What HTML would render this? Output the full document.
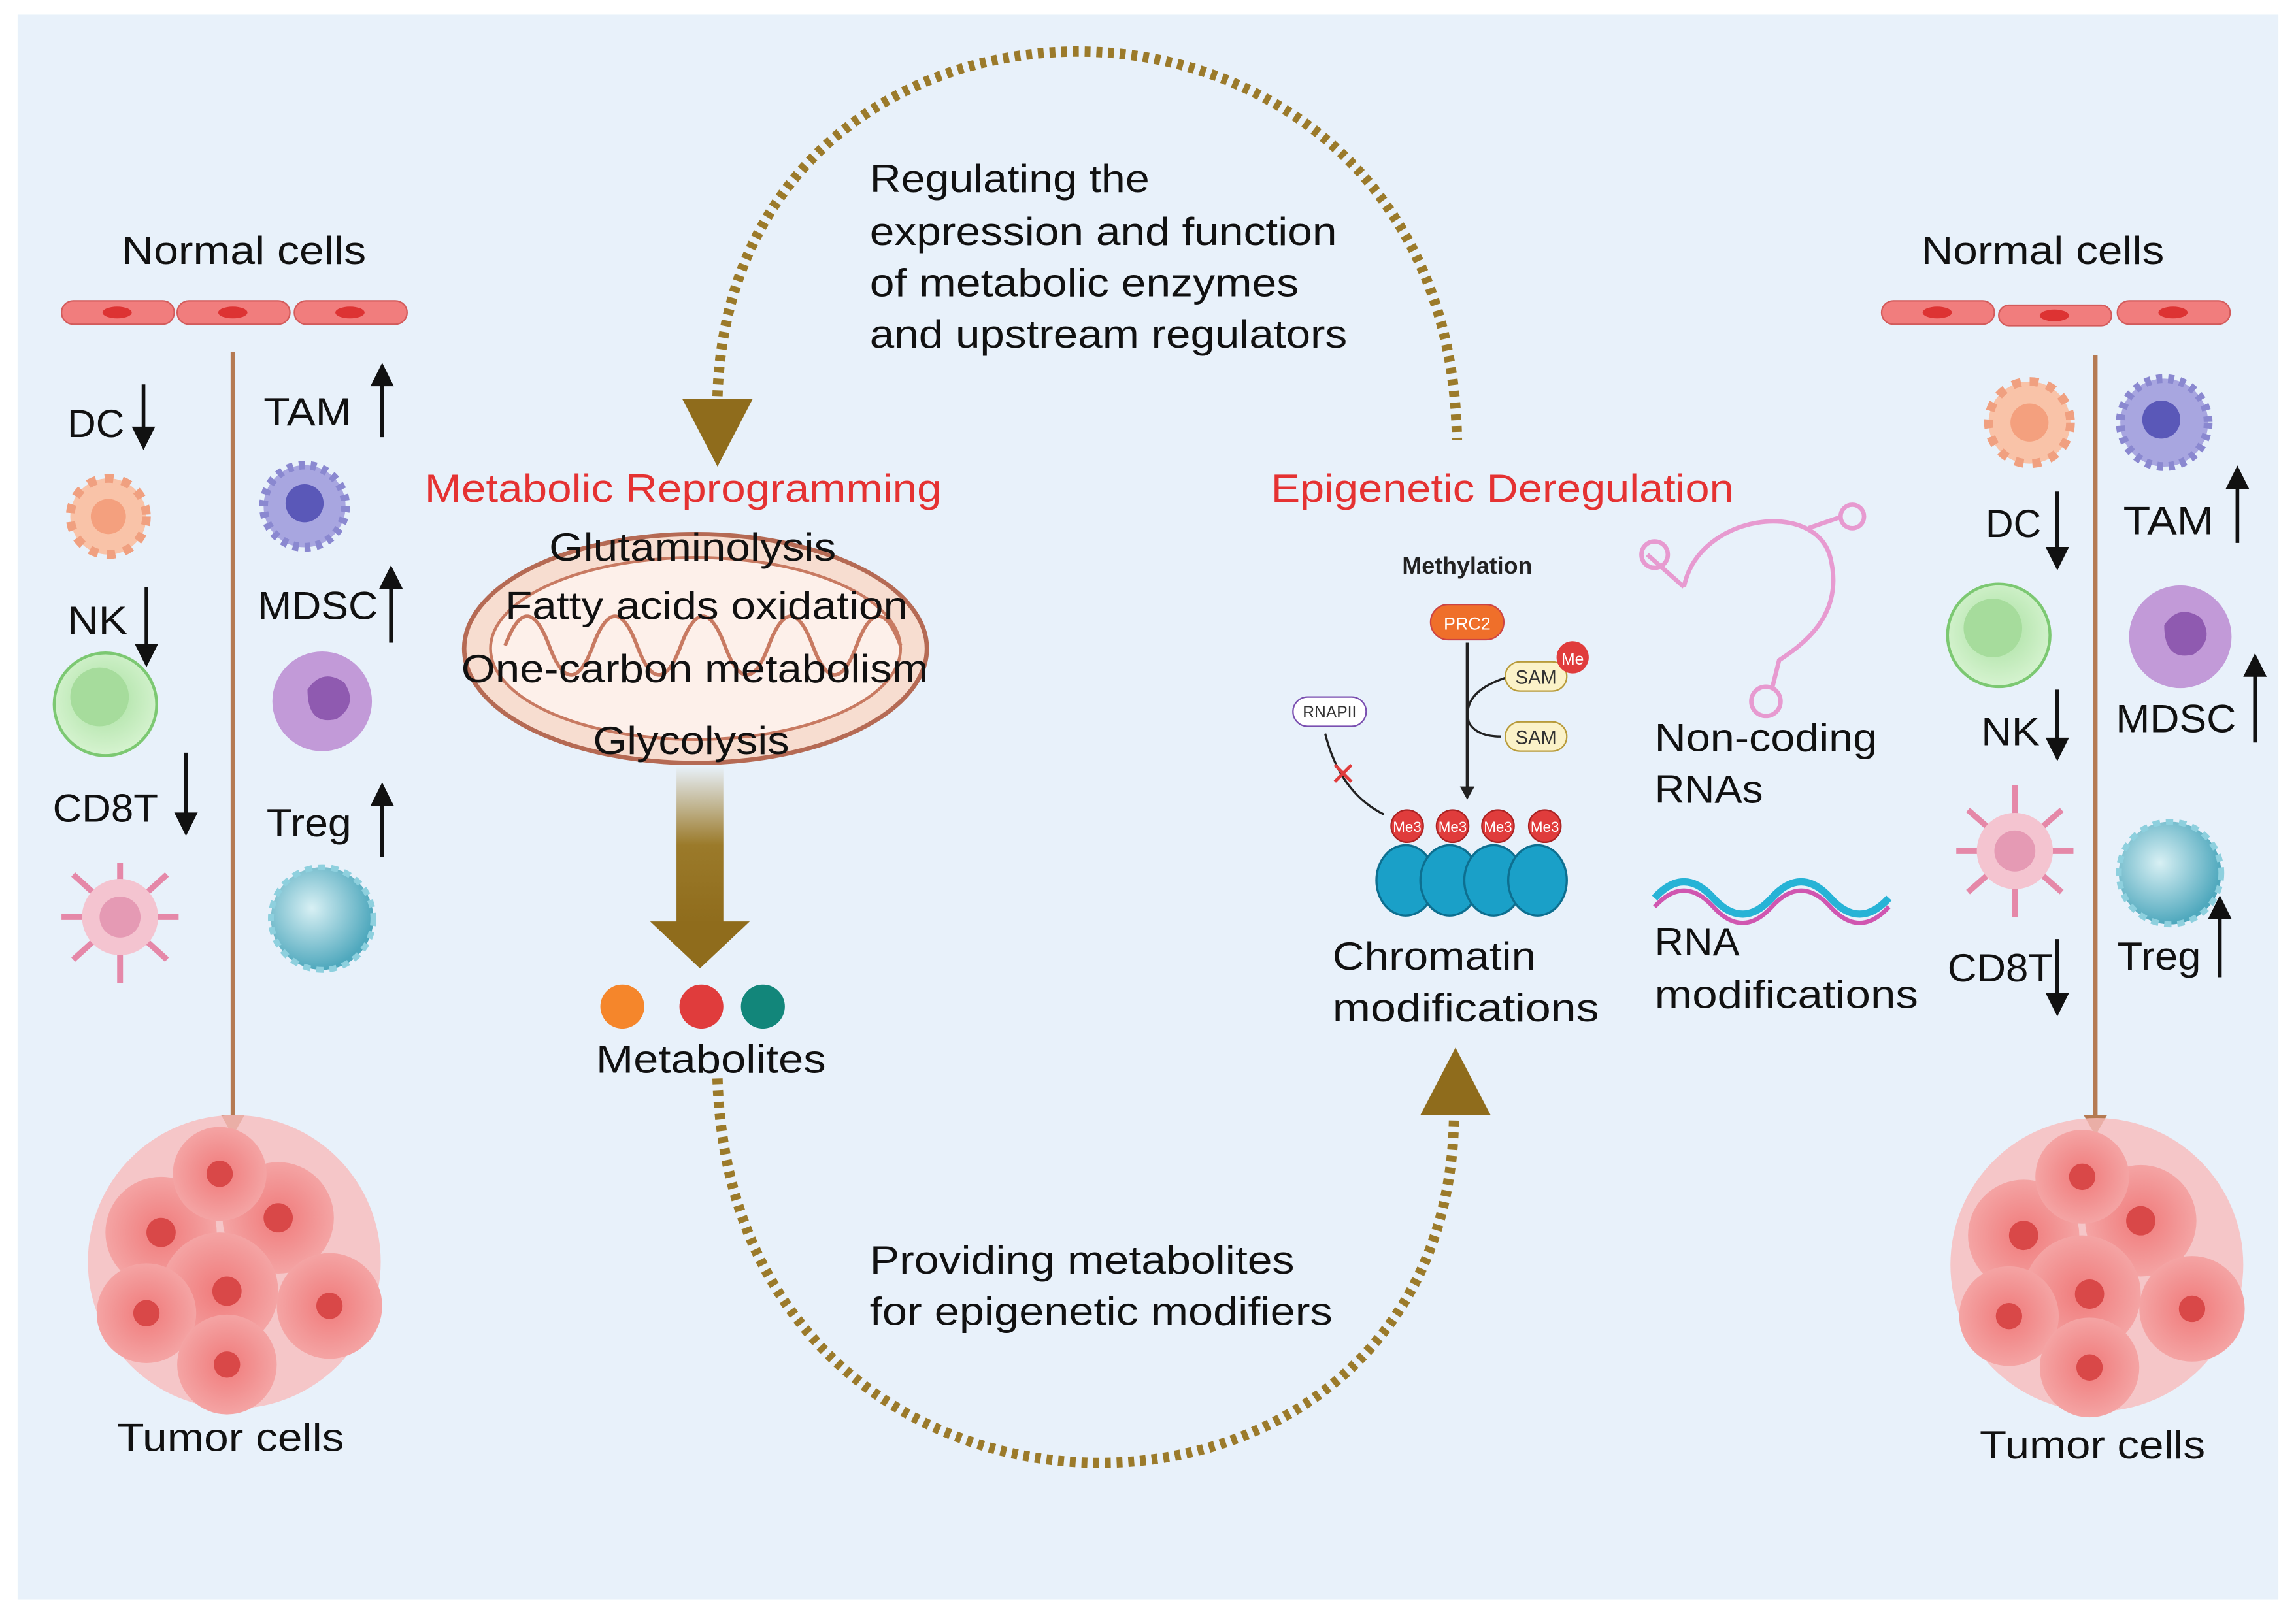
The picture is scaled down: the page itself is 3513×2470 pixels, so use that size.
<!DOCTYPE html>
<html><head><meta charset="utf-8"><style>
html,body{margin:0;padding:0;background:#fff}
svg{display:block}
text{font-family:"Liberation Sans",sans-serif}
</style></head><body>
<svg width="3513" height="2470" viewBox="0 0 1568 1100" preserveAspectRatio="none" xmlns="http://www.w3.org/2000/svg">
<defs>
<radialGradient id="cellg" cx="50%" cy="50%" r="50%"><stop offset="0" stop-color="#f07a7a"/><stop offset="1" stop-color="#f4a4a4"/></radialGradient>
<linearGradient id="fadeArrow" x1="0" y1="0" x2="0" y2="1"><stop offset="0" stop-color="#e8f1fa"/><stop offset="0.5" stop-color="#9b7a2a"/><stop offset="1" stop-color="#8f6c1c"/></linearGradient>
<radialGradient id="treg" cx="40%" cy="40%" r="60%"><stop offset="0" stop-color="#d8f0f4"/><stop offset="1" stop-color="#4fa8bd"/></radialGradient>
<radialGradient id="nkg" cx="50%" cy="45%" r="55%"><stop offset="0" stop-color="#a8e0a0"/><stop offset="1" stop-color="#d6f3d0"/></radialGradient>
</defs>
<rect x="0" y="0" width="1568" height="1100" fill="#fff"/>
<rect x="12" y="10" width="1544" height="1080" fill="#e8f1fa"/>

<path d="M490 270 C 500 -48, 990 -48, 995 300" fill="none" stroke="#9b7a2a" stroke-width="7" stroke-dasharray="4 4"/>
<polygon points="466,272 514,272 490,318" fill="#8f6c1c"/>
<path d="M490 735 C 500 1080, 990 1080, 993 760" fill="none" stroke="#9b7a2a" stroke-width="7" stroke-dasharray="4 4"/>
<polygon points="970,760 1018,760 994,714" fill="#8f6c1c"/>

<g font-size="27" fill="#111" lengthAdjust="spacingAndGlyphs">
<text x="594" y="131" textLength="191" lengthAdjust="spacingAndGlyphs">Regulating the</text>
<text x="594" y="167" textLength="319" lengthAdjust="spacingAndGlyphs">expression and function</text>
<text x="594" y="202" textLength="293" lengthAdjust="spacingAndGlyphs">of metabolic enzymes</text>
<text x="594" y="237" textLength="326" lengthAdjust="spacingAndGlyphs">and upstream regulators</text>
<text x="594" y="868" textLength="290" lengthAdjust="spacingAndGlyphs">Providing metabolites</text>
<text x="594" y="903" textLength="316" lengthAdjust="spacingAndGlyphs">for epigenetic modifiers</text>
</g>

<text x="290" y="342" font-size="27" fill="#e53232" textLength="353" lengthAdjust="spacingAndGlyphs">Metabolic Reprogramming</text>
<text x="868" y="342" font-size="27" fill="#e53232" textLength="316" lengthAdjust="spacingAndGlyphs">Epigenetic Deregulation</text>

<ellipse cx="475" cy="442" rx="158" ry="78" fill="#f7ddd0" stroke="#b56a54" stroke-width="3"/>
<ellipse cx="475" cy="442" rx="140" ry="62" fill="#fdf0ea" stroke="#c87a62" stroke-width="2"/>
<path d="M345 440 q15 -40 30 0 q15 40 30 0 q15 -40 30 0 q15 40 30 0 q15 -40 30 0 q15 40 30 0 q15 -40 30 0 q15 40 30 0 q15 -40 30 0" fill="none" stroke="#c87a62" stroke-width="2.5"/>
<g font-size="27" fill="#111">
<text x="375" y="382" textLength="196" lengthAdjust="spacingAndGlyphs">Glutaminolysis</text>
<text x="345" y="422" textLength="275" lengthAdjust="spacingAndGlyphs">Fatty acids oxidation</text>
<text x="315" y="465" textLength="319" lengthAdjust="spacingAndGlyphs">One-carbon metabolism</text>
<text x="405" y="514" textLength="134" lengthAdjust="spacingAndGlyphs">Glycolysis</text>
</g>
<rect x="462" y="522" width="32" height="108" fill="url(#fadeArrow)"/>
<polygon points="444,628 512,628 478,660" fill="#8f6c1c"/>
<circle cx="425" cy="686" r="15" fill="#f5862b"/>
<circle cx="479" cy="686" r="15" fill="#e03c3c"/>
<circle cx="521" cy="686" r="15" fill="#12867a"/>
<text x="407" y="731" font-size="27" fill="#111" textLength="157" lengthAdjust="spacingAndGlyphs">Metabolites</text>

<text x="1002" y="391" font-size="16" font-weight="bold" fill="#222" text-anchor="middle">Methylation</text>
<rect x="977" y="412" width="50" height="24" rx="12" fill="#ef6f2a" stroke="#c44" />
<text x="1002" y="429" font-size="12" fill="#fff" text-anchor="middle">PRC2</text>
<line x1="1002" y1="438" x2="1002" y2="538" stroke="#222" stroke-width="2"/>
<polygon points="997,536 1007,536 1002,545" fill="#222"/>
<path d="M1028 462 q-30 10 -25 30 q5 10 22 10" fill="none" stroke="#222" stroke-width="1.5"/>
<rect x="1028" y="451" width="42" height="20" rx="10" fill="#fbf2c8" stroke="#b89b3a"/>
<text x="1049" y="466" font-size="13" text-anchor="middle" fill="#333">SAM</text>
<circle cx="1074" cy="448" r="11" fill="#e03c3c"/>
<text x="1074" y="453" font-size="11" fill="#fff" text-anchor="middle">Me</text>
<rect x="1028" y="492" width="42" height="20" rx="10" fill="#fbf2c8" stroke="#b89b3a"/>
<text x="1049" y="507" font-size="13" text-anchor="middle" fill="#333">SAM</text>
<rect x="883" y="475" width="50" height="20" rx="10" fill="#fff" stroke="#7a4fb0"/>
<text x="908" y="489" font-size="11" text-anchor="middle" fill="#333">RNAPII</text>
<path d="M905 500 q10 40 40 55" fill="none" stroke="#222" stroke-width="1.5"/>
<text x="908" y="535" font-size="22" fill="#e03c3c">✕</text>
<g fill="#1aa0c8" stroke="#0d6f90" stroke-width="1.5">
<ellipse cx="960" cy="600" rx="20" ry="24"/><ellipse cx="990" cy="600" rx="20" ry="24"/><ellipse cx="1020" cy="600" rx="20" ry="24"/><ellipse cx="1050" cy="600" rx="20" ry="24"/>
</g>
<g fill="#e03c3c" stroke="#a22">
<circle cx="961" cy="563" r="11"/><circle cx="992" cy="563" r="11"/><circle cx="1023" cy="563" r="11"/><circle cx="1055" cy="563" r="11"/>
</g>
<g font-size="10" fill="#fff" text-anchor="middle"><text x="961" y="567">Me3</text><text x="992" y="567">Me3</text><text x="1023" y="567">Me3</text><text x="1055" y="567">Me3</text></g>
<g font-size="27" fill="#111">
<text x="910" y="661" textLength="139" lengthAdjust="spacingAndGlyphs">Chromatin</text>
<text x="910" y="696" textLength="182" lengthAdjust="spacingAndGlyphs">modifications</text>
<text x="1130" y="512" textLength="152" lengthAdjust="spacingAndGlyphs">Non-coding</text>
<text x="1130" y="547" textLength="74" lengthAdjust="spacingAndGlyphs">RNAs</text>
<text x="1130" y="651" textLength="58" lengthAdjust="spacingAndGlyphs">RNA</text>
<text x="1130" y="687" textLength="180" lengthAdjust="spacingAndGlyphs">modifications</text>
</g>
<g fill="none" stroke="#e79ad0" stroke-width="3">
<path d="M1150 400 C1160 350, 1240 340, 1250 380 C1260 420, 1230 440, 1215 450 L1210 470"/>
<circle cx="1206" cy="478" r="10"/>
<path d="M1150 400 L1125 378"/><circle cx="1130" cy="378" r="9"/>
<path d="M1235 360 L1258 352"/><circle cx="1265" cy="352" r="8"/>
</g>
<path d="M1130 612 q20 -22 40 0 t40 0 t40 0 t40 0" fill="none" stroke="#27b3d6" stroke-width="5"/>
<path d="M1130 618 q20 -22 40 0 t40 0 t40 0 t40 0" fill="none" stroke="#d056b0" stroke-width="3"/>

<text x="83" y="180" font-size="27" fill="#111" textLength="167" lengthAdjust="spacingAndGlyphs">Normal cells</text>
<g fill="#f17d7d" stroke="#d35b5b"><rect x="42" y="205" width="77" height="16" rx="8"/><rect x="121" y="205" width="77" height="16" rx="8"/><rect x="201" y="205" width="77" height="16" rx="8"/></g>
<g fill="#d33"><ellipse cx="80" cy="213" rx="10" ry="4"/><ellipse cx="159" cy="213" rx="10" ry="4"/><ellipse cx="239" cy="213" rx="10" ry="4"/></g>
<line x1="159" y1="240" x2="159" y2="762" stroke="#b57a52" stroke-width="3"/>
<polygon points="151,760 167,760 159,774" fill="#b57a52"/>
<g font-size="27" fill="#111">
<text x="46" y="298" textLength="39" lengthAdjust="spacingAndGlyphs">DC</text><text x="46" y="432" textLength="41" lengthAdjust="spacingAndGlyphs">NK</text><text x="36" y="560" textLength="72" lengthAdjust="spacingAndGlyphs">CD8T</text>
<text x="180" y="290" textLength="60" lengthAdjust="spacingAndGlyphs">TAM</text><text x="176" y="422" textLength="82" lengthAdjust="spacingAndGlyphs">MDSC</text><text x="182" y="570" textLength="58" lengthAdjust="spacingAndGlyphs">Treg</text>
</g>
<g stroke="#111" stroke-width="2.5" fill="#111">
<line x1="98" y1="262" x2="98" y2="298"/><polygon points="92,292 104,292 98,304"/>
<line x1="100" y1="400" x2="100" y2="445"/><polygon points="94,440 106,440 100,452"/>
<line x1="127" y1="513" x2="127" y2="560"/><polygon points="121,555 133,555 127,567"/>
<line x1="261" y1="262" x2="261" y2="298"/><polygon points="255,262 267,262 261,250"/>
<line x1="267" y1="400" x2="267" y2="438"/><polygon points="261,400 273,400 267,388"/>
<line x1="261" y1="548" x2="261" y2="584"/><polygon points="255,548 267,548 261,536"/>
</g>
<g><circle cx="74" cy="352" r="26" fill="#f9c3a8" stroke="#f0a080" stroke-width="6" stroke-dasharray="6 6"/><circle cx="74" cy="352" r="12" fill="#f4a07e"/></g>
<circle cx="72" cy="480" r="35" fill="url(#nkg)" stroke="#7cc872" stroke-width="2"/>
<circle cx="68" cy="475" r="20" fill="#a6dc9c"/>
<g stroke="#e588a8" stroke-width="4"><line x1="82" y1="588" x2="82" y2="670"/><line x1="42" y1="625" x2="122" y2="625"/><line x1="50" y1="596" x2="114" y2="654"/><line x1="114" y1="596" x2="50" y2="654"/></g>
<circle cx="82" cy="625" r="26" fill="#f4c4d0"/><circle cx="82" cy="625" r="14" fill="#e59ab4"/>
<circle cx="208" cy="345" r="28" fill="#a8a6e0" stroke="#8a88d0" stroke-width="6" stroke-dasharray="4 4"/><circle cx="208" cy="343" r="13" fill="#5a58b8"/>
<circle cx="220" cy="478" r="34" fill="#c29ad8"/><path d="M210 470 q10 -15 25 -5 q10 15 -5 25 q-20 5 -20 -20z" fill="#8f5ab0"/>
<circle cx="220" cy="626" r="35" fill="url(#treg)" stroke="#8ed0de" stroke-width="4" stroke-dasharray="5 4"/>
<g>
<circle cx="160" cy="860" r="100" fill="#f8bcbc" opacity="0.8"/>
<circle cx="110" cy="840" r="38" fill="url(#cellg)"/><circle cx="190" cy="830" r="38" fill="url(#cellg)"/>
<circle cx="150" cy="880" r="40" fill="url(#cellg)"/><circle cx="225" cy="890" r="36" fill="url(#cellg)"/>
<circle cx="100" cy="895" r="34" fill="url(#cellg)"/><circle cx="150" cy="800" r="32" fill="url(#cellg)"/>
<circle cx="155" cy="930" r="34" fill="url(#cellg)"/>
<g fill="#d94848"><circle cx="110" cy="840" r="10"/><circle cx="190" cy="830" r="10"/><circle cx="155" cy="880" r="10"/><circle cx="225" cy="890" r="9"/><circle cx="100" cy="895" r="9"/><circle cx="150" cy="800" r="9"/><circle cx="155" cy="930" r="9"/></g>
</g>
<text x="80" y="989" font-size="27" fill="#111" textLength="155" lengthAdjust="spacingAndGlyphs">Tumor cells</text>

<text x="1312" y="180" font-size="27" fill="#111" textLength="166" lengthAdjust="spacingAndGlyphs">Normal cells</text>
<g fill="#f17d7d" stroke="#d35b5b"><rect x="1285" y="205" width="77" height="16" rx="8"/><rect x="1365" y="208" width="77" height="14" rx="7"/><rect x="1446" y="205" width="77" height="16" rx="8"/></g>
<g fill="#d33"><ellipse cx="1323" cy="213" rx="10" ry="4"/><ellipse cx="1403" cy="215" rx="10" ry="4"/><ellipse cx="1484" cy="213" rx="10" ry="4"/></g>
<line x1="1431" y1="242" x2="1431" y2="762" stroke="#b57a52" stroke-width="3"/>
<polygon points="1423,760 1439,760 1431,774" fill="#b57a52"/>
<g font-size="27" fill="#111">
<text x="1356" y="366" textLength="38" lengthAdjust="spacingAndGlyphs">DC</text><text x="1353" y="508" textLength="40" lengthAdjust="spacingAndGlyphs">NK</text><text x="1330" y="669" textLength="72" lengthAdjust="spacingAndGlyphs">CD8T</text>
<text x="1450" y="364" textLength="62" lengthAdjust="spacingAndGlyphs">TAM</text><text x="1445" y="499" textLength="82" lengthAdjust="spacingAndGlyphs">MDSC</text><text x="1446" y="661" textLength="57" lengthAdjust="spacingAndGlyphs">Treg</text>
</g>
<g stroke="#111" stroke-width="2.5" fill="#111">
<line x1="1405" y1="335" x2="1405" y2="378"/><polygon points="1399,374 1411,374 1405,386"/>
<line x1="1405" y1="470" x2="1405" y2="508"/><polygon points="1399,504 1411,504 1405,516"/>
<line x1="1405" y1="640" x2="1405" y2="682"/><polygon points="1399,678 1411,678 1405,690"/>
<line x1="1528" y1="332" x2="1528" y2="370"/><polygon points="1522,332 1534,332 1528,320"/>
<line x1="1540" y1="460" x2="1540" y2="506"/><polygon points="1534,460 1546,460 1540,448"/>
<line x1="1516" y1="625" x2="1516" y2="666"/><polygon points="1510,625 1522,625 1516,613"/>
</g>
<g><circle cx="1386" cy="288" r="28" fill="#f9c3a8" stroke="#f0a080" stroke-width="6" stroke-dasharray="6 6"/><circle cx="1386" cy="288" r="13" fill="#f4a07e"/></g>
<circle cx="1365" cy="433" r="35" fill="url(#nkg)" stroke="#7cc872" stroke-width="2"/>
<circle cx="1361" cy="428" r="20" fill="#a6dc9c"/>
<g stroke="#e588a8" stroke-width="4"><line x1="1376" y1="535" x2="1376" y2="625"/><line x1="1336" y1="580" x2="1416" y2="580"/><line x1="1344" y1="552" x2="1408" y2="608"/><line x1="1408" y1="552" x2="1344" y2="608"/></g>
<circle cx="1376" cy="580" r="26" fill="#f4c4d0"/><circle cx="1376" cy="580" r="14" fill="#e59ab4"/>
<circle cx="1478" cy="288" r="30" fill="#a8a6e0" stroke="#8a88d0" stroke-width="6" stroke-dasharray="4 4"/><circle cx="1476" cy="286" r="13" fill="#5a58b8"/>
<circle cx="1489" cy="434" r="35" fill="#c29ad8"/><path d="M1478 426 q10 -15 25 -5 q10 15 -5 25 q-20 5 -20 -20z" fill="#8f5ab0"/>
<circle cx="1482" cy="595" r="35" fill="url(#treg)" stroke="#8ed0de" stroke-width="4" stroke-dasharray="5 4"/>
<g>
<circle cx="1432" cy="862" r="100" fill="#f8bcbc" opacity="0.8"/>
<circle cx="1382" cy="842" r="38" fill="url(#cellg)"/><circle cx="1462" cy="832" r="38" fill="url(#cellg)"/>
<circle cx="1422" cy="882" r="40" fill="url(#cellg)"/><circle cx="1497" cy="892" r="36" fill="url(#cellg)"/>
<circle cx="1372" cy="897" r="34" fill="url(#cellg)"/><circle cx="1422" cy="802" r="32" fill="url(#cellg)"/>
<circle cx="1427" cy="932" r="34" fill="url(#cellg)"/>
<g fill="#d94848"><circle cx="1382" cy="842" r="10"/><circle cx="1462" cy="832" r="10"/><circle cx="1427" cy="882" r="10"/><circle cx="1497" cy="892" r="9"/><circle cx="1372" cy="897" r="9"/><circle cx="1422" cy="802" r="9"/><circle cx="1427" cy="932" r="9"/></g>
</g>
<text x="1352" y="994" font-size="27" fill="#111" textLength="154" lengthAdjust="spacingAndGlyphs">Tumor cells</text>
</svg>
</body></html>
